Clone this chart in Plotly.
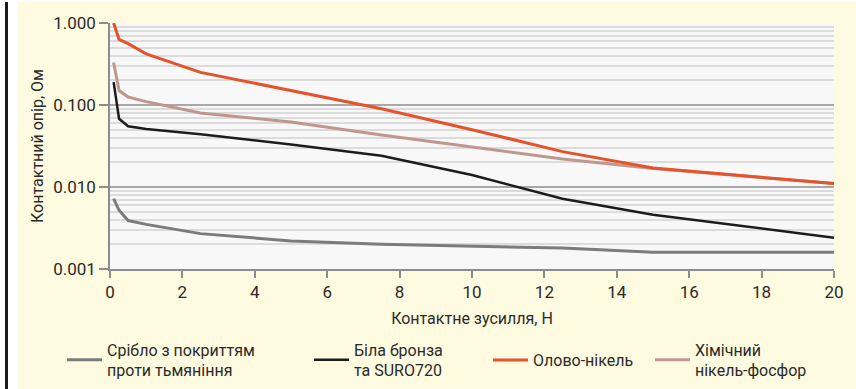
import plotly.graph_objects as go

# Contact force, N
force = [0.1, 0.25, 0.5, 1, 2.5, 5, 7.5, 10, 12.5, 15, 20]

# Contact resistance, Ohm
silver = [0.0072, 0.0052, 0.0039, 0.0035, 0.0027, 0.0022, 0.0020, 0.0019, 0.0018, 0.0016, 0.0016]
bronze = [0.19, 0.068, 0.055, 0.051, 0.044, 0.033, 0.024, 0.014, 0.0072, 0.0046, 0.0024]
tin_nickel = [1.0, 0.63, 0.56, 0.42, 0.25, 0.15, 0.09, 0.05, 0.027, 0.017, 0.011]
nickel_phos = [0.33, 0.15, 0.125, 0.11, 0.08, 0.062, 0.043, 0.031, 0.022, 0.0168, 0.011]

names = ["Срібло з покриттям<br>проти тьмяніння",
         "Біла бронза<br>та SURO720",
         "Олово-нікель",
         "Хімічний<br>нікель-фосфор"]

y_ticks = [0.001, 0.01, 0.1, 1]
y_ticktext = ["0.001", "0.010", "0.100", "1.000"]
x_ticks = list(range(0, 21, 2))

FONT = "Roboto, Liberation Sans, sans-serif"
TXT = "#2a2a2a"

W, H = 856, 389
L, R, T, B = 110, 22, 23, 120
pw, ph = W - L - R, H - T - B


def px_x(p):
    return (p - L) / pw


def px_y(p):
    return (H - B - p) / ph


series = [
    (silver, "#7b7b7b", 3, "legend"),
    (bronze, "#1c1c1c", 2.5, "legend2"),
    (nickel_phos, "#c0978d", 3, "legend4"),
    (tin_nickel, "#e6532a", 3, "legend3"),
]
label_of = {"legend": names[0], "legend2": names[1], "legend3": names[2], "legend4": names[3]}

fig = go.Figure()
for ys, color, width, leg in series:
    fig.add_trace(go.Scatter(
        x=force, y=ys, mode="lines", name=label_of[leg], legend=leg,
        line=dict(color=color, width=width),
    ))

legend_left = {"legend": 62, "legend2": 309, "legend3": 488, "legend4": 650}
for key, left in legend_left.items():
    fig.update_layout({key: dict(
        x=px_x(left), xanchor="left", y=px_y(360), yanchor="middle",
        bgcolor="rgba(0,0,0,0)", borderwidth=0,
        font=dict(family=FONT, size=16, color=TXT),
        itemwidth=35,
    )})

fig.update_layout(
    width=W, height=H,
    margin=dict(l=L, r=R, t=T, b=B, autoexpand=False),
    paper_bgcolor="#fffbe1",
    plot_bgcolor="#f8f8f8",
    font=dict(family=FONT, size=16, color=TXT),
    showlegend=True,
    xaxis=dict(
        range=[0, 20], tickvals=x_ticks, showgrid=False, zeroline=False,
        showline=True, linecolor="#8c8c8c", linewidth=1.5,
        ticks="outside", ticklen=7, tickcolor="#8c8c8c", tickwidth=1.5,
        tickfont=dict(family=FONT, size=17, color=TXT),
        title=dict(text="Контактне зусилля, Н", standoff=12,
                   font=dict(family=FONT, size=16, color=TXT)),
    ),
    yaxis=dict(
        type="log", range=[-3, 0], tickvals=y_ticks, ticktext=y_ticktext,
        showgrid=True, gridcolor="#a8a8a8", gridwidth=1.5,
        minor=dict(dtick="D1", showgrid=True, gridcolor="#dcdcdc", gridwidth=1.5, ticks=""),
        zeroline=False, showline=True, linecolor="#8c8c8c", linewidth=1.5,
        ticks="outside", ticklen=9, tickcolor="#8c8c8c", tickwidth=1.5,
        tickfont=dict(family=FONT, size=17, color=TXT),
        title=dict(text="Контактний опір, Ом", standoff=6,
                   font=dict(family=FONT, size=16, color=TXT)),
    ),
    shapes=[
        # white margin strip and dark rule along the left edge
        dict(type="rect", xref="paper", yref="paper", x0=px_x(0), x1=px_x(18),
             y0=px_y(H), y1=px_y(0), fillcolor="white", line_width=0, layer="below"),
        dict(type="rect", xref="paper", yref="paper", x0=px_x(0), x1=px_x(W),
             y0=px_y(2), y1=px_y(0), fillcolor="white", line_width=0, layer="below"),
        dict(type="rect", xref="paper", yref="paper", x0=px_x(5), x1=px_x(8),
             y0=px_y(H), y1=px_y(2), fillcolor="#1a1a1a", line_width=0, layer="below"),
    ],
)

fig.write_html("out.html")
